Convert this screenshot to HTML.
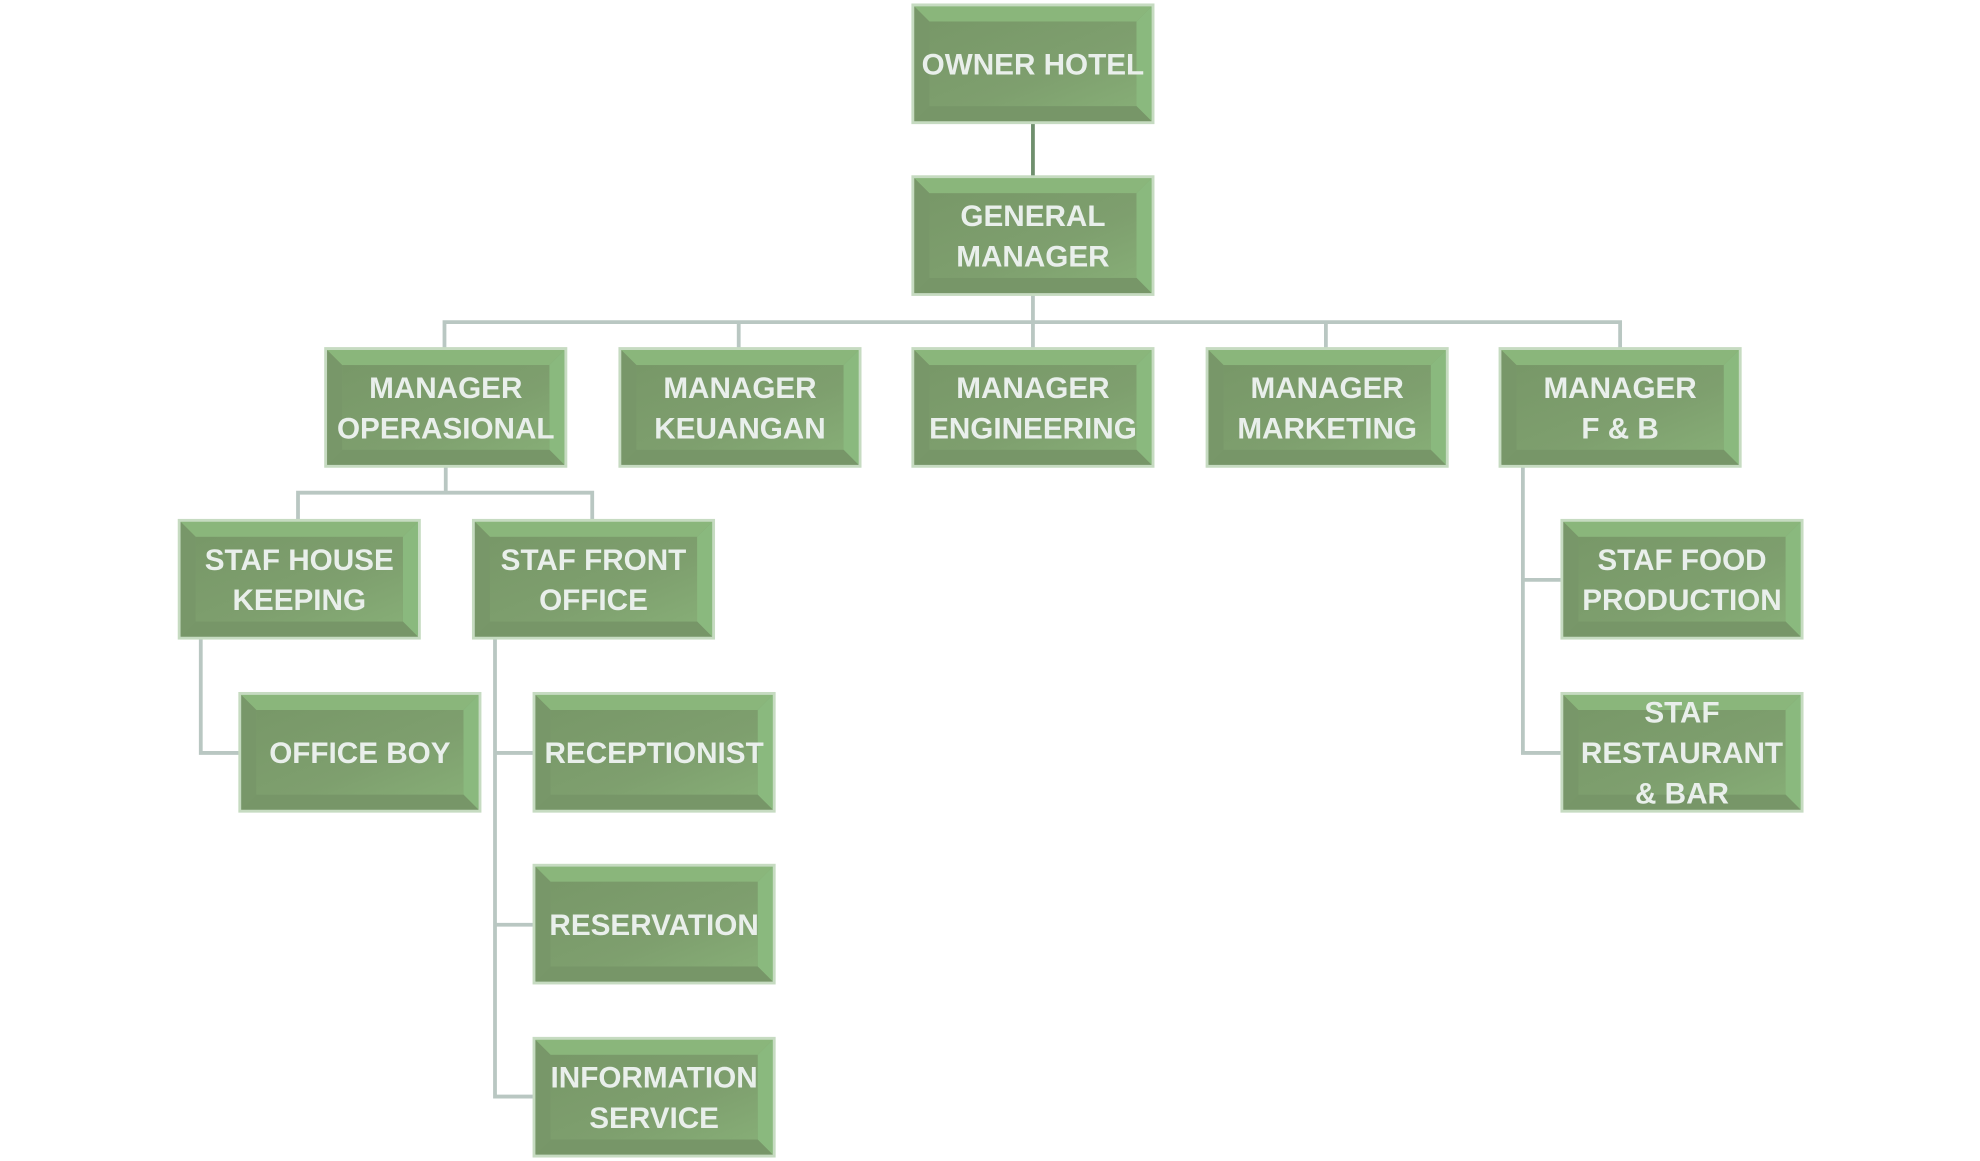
<!DOCTYPE html>
<html><head><meta charset="utf-8"><style>
html,body{margin:0;padding:0;background:#fff;width:1980px;height:1161px;overflow:hidden}
svg{display:block}
text{font-family:"Liberation Sans",sans-serif;font-weight:bold;font-size:23.5px;fill:#e9efeb;text-anchor:middle}
</style></head><body>
<svg width="1980" height="1161" viewBox="0 0 1568 919" preserveAspectRatio="none">
<defs>
<linearGradient id="g" x1="0" y1="0" x2="1" y2="1">
<stop offset="0" stop-color="#789868"/><stop offset="0.6" stop-color="#7e9f6e"/><stop offset="1" stop-color="#86ad76"/>
</linearGradient>
<g id="b">
<rect x="0" y="0" width="190" height="93" fill="#7c9c6c" stroke="#c6dbc1" stroke-width="2.5"/>
<polygon points="1,1 189,1 177,13 13,13" fill="#8ab67b"/>
<polygon points="189,1 189,92 177,80 177,13" fill="#8ab97e"/>
<polygon points="1,92 189,92 177,80 13,80" fill="#779668"/>
<polygon points="1,1 13,13 13,80 1,92" fill="#789769"/>
<rect x="13" y="13" width="164" height="67" fill="url(#g)"/>
</g>
</defs>
<g fill="none" stroke-width="3">
<line x1="818" y1="97" x2="818" y2="140" stroke="#6f8f6d"/>
<g stroke="#b9c7c2">
<line x1="818" y1="233" x2="818" y2="276"/>
<polyline points="352,276 352,255 1283,255 1283,276"/>
<line x1="585" y1="255" x2="585" y2="276"/>
<line x1="1050" y1="255" x2="1050" y2="276"/>
<line x1="353" y1="369" x2="353" y2="390"/>
<polyline points="236,412 236,390 469,390 469,412"/>
<polyline points="159,505 159,596 190,596"/>
<polyline points="392,505 392,868 423,868"/>
<line x1="392" y1="596" x2="423" y2="596"/>
<line x1="392" y1="732" x2="423" y2="732"/>
<polyline points="1206,369 1206,596 1237,596"/>
<line x1="1206" y1="459" x2="1237" y2="459"/>
</g></g>
<use href="#b" x="723" y="4"/><text x="818" y="59">OWNER HOTEL</text>
<use href="#b" x="723" y="140"/><text x="818" y="179">GENERAL</text><text x="818" y="211">MANAGER</text>
<use href="#b" x="258" y="276"/><text x="353" y="315">MANAGER</text><text x="353" y="347">OPERASIONAL</text>
<use href="#b" x="491" y="276"/><text x="586" y="315">MANAGER</text><text x="586" y="347">KEUANGAN</text>
<use href="#b" x="723" y="276"/><text x="818" y="315">MANAGER</text><text x="818" y="347">ENGINEERING</text>
<use href="#b" x="956" y="276"/><text x="1051" y="315">MANAGER</text><text x="1051" y="347">MARKETING</text>
<use href="#b" x="1188" y="276"/><text x="1283" y="315">MANAGER</text><text x="1283" y="347">F &amp; B</text>
<use href="#b" x="142" y="412"/><text x="237" y="451">STAF HOUSE</text><text x="237" y="483">KEEPING</text>
<use href="#b" x="375" y="412"/><text x="470" y="451">STAF FRONT</text><text x="470" y="483">OFFICE</text>
<use href="#b" x="1237" y="412"/><text x="1332" y="451">STAF FOOD</text><text x="1332" y="483">PRODUCTION</text>
<use href="#b" x="1237" y="549"/><text x="1332" y="572">STAF</text><text x="1332" y="604">RESTAURANT</text><text x="1332" y="636">&amp; BAR</text>
<use href="#b" x="190" y="549"/><text x="285" y="604">OFFICE BOY</text>
<use href="#b" x="423" y="549"/><text x="518" y="604">RECEPTIONIST</text>
<use href="#b" x="423" y="685"/><text x="518" y="740">RESERVATION</text>
<use href="#b" x="423" y="822"/><text x="518" y="861">INFORMATION</text><text x="518" y="893">SERVICE</text>
</svg>
</body></html>
